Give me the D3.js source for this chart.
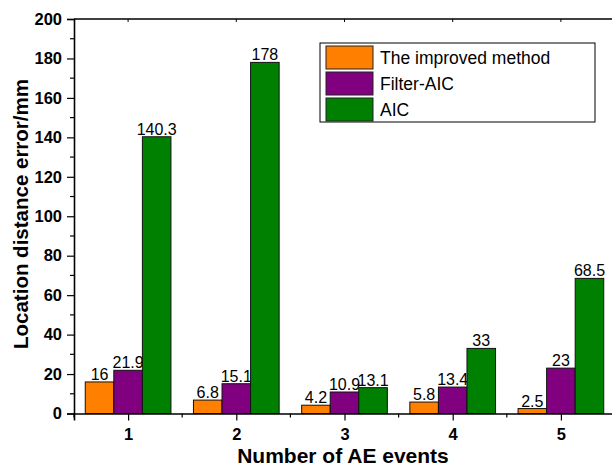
<!DOCTYPE html>
<html>
<head>
<meta charset="utf-8">
<script src="https://cdn.jsdelivr.net/npm/d3@7"></script>
<style>
  body { margin: 0; background: #fff; }
  svg { font-family: "Liberation Sans", Arial, sans-serif; }
</style>
</head>
<body>
<svg id="chart" width="612" height="468"></svg>
<script>
// data
var events = [1, 2, 3, 4, 5];
var seriesNames = ["The improved method", "Filter-AIC", "AIC"];
var improved = [16, 6.8, 4.2, 5.8, 2.5];
var filterAIC = [21.9, 15.1, 10.9, 13.4, 23];
var aic = [140.3, 178, 13.1, 33, 68.5];
var yTicks = [0, 20, 40, 60, 80, 100, 120, 140, 160, 180, 200];
var colors = ["#FF8000", "#800080", "#008000"];

var series = [improved, filterAIC, aic];

var svg = d3.select("#chart");
var mLeft = 74, mRight = 615, mTop = 19, mBottom = 413.5;

var x = d3.scaleLinear().domain([0.5, 5.5]).range([mLeft, mRight]);
var y = d3.scaleLinear().domain([0, 200]).range([mBottom, mTop]);

var barW = 0.264; // in category units

// bars
series.forEach(function(vals, j) {
  var g = svg.append("g");
  g.selectAll("rect")
    .data(vals)
    .enter().append("rect")
    .attr("x", function(d, i) { return x(events[i] + (j - 1.5) * barW); })
    .attr("width", x(1 + barW) - x(1))
    .attr("y", function(d) { return y(d); })
    .attr("height", function(d) { return y(0) - y(d); })
    .attr("fill", colors[j])
    .attr("stroke", "#111")
    .attr("stroke-width", 1);

  g.selectAll("text")
    .data(vals)
    .enter().append("text")
    .attr("x", function(d, i) { return x(events[i] + (j - 1) * barW); })
    .attr("y", function(d) { return y(d) - 2; })
    .attr("text-anchor", "middle")
    .style("font-size", "16px")
    .text(function(d) { return d; });
});

// y axis
var yAxis = svg.append("g").attr("transform", "translate(" + mLeft + ",0)")
  .call(d3.axisLeft(y).tickValues(yTicks).tickSize(7).tickFormat(d3.format("d")));
yAxis.append("g").selectAll("line")
  .data(d3.range(10, 200, 20))
  .enter().append("line")
  .attr("x1", -4).attr("x2", 0)
  .attr("y1", function(d) { return y(d); })
  .attr("y2", function(d) { return y(d); })
  .attr("stroke", "#000");
yAxis.selectAll(".tick text")
  .style("font-size", "16.5px").style("font-weight", "bold")
  .attr("font-family", "Liberation Sans, Arial, sans-serif").attr("fill", "#000")
  .attr("x", -12);

// x axis
var xAxis = svg.append("g").attr("transform", "translate(0," + mBottom + ")")
  .call(d3.axisBottom(x).tickValues(events).tickSize(7).tickFormat(d3.format("d")));
xAxis.append("g").selectAll("line")
  .data(d3.range(0.5, 6, 1))
  .enter().append("line")
  .attr("x1", function(d) { return x(d); })
  .attr("x2", function(d) { return x(d); })
  .attr("y1", 0).attr("y2", 4)
  .attr("stroke", "#000");
xAxis.selectAll(".tick text")
  .style("font-size", "16.5px").style("font-weight", "bold")
  .attr("font-family", "Liberation Sans, Arial, sans-serif").attr("fill", "#000")
  .attr("y", 15);

[yAxis, xAxis].forEach(function(a) {
  a.select(".domain").attr("stroke-width", 1.6);
  a.selectAll("line").attr("stroke-width", 1.2);
});

// top frame line
svg.append("line")
  .attr("x1", mLeft).attr("x2", mRight)
  .attr("y1", mTop).attr("y2", mTop)
  .attr("stroke", "#000").attr("stroke-width", 1.6);
svg.append("g").selectAll("line")
  .data(events)
  .enter().append("line")
  .attr("x1", function(d) { return x(d); })
  .attr("x2", function(d) { return x(d); })
  .attr("y1", mTop).attr("y2", mTop + 3)
  .attr("stroke", "#000");

// axis titles
svg.append("text")
  .attr("transform", "translate(28,214) rotate(-90)")
  .attr("text-anchor", "middle")
  .style("font-size", "20.5px").style("font-weight", "bold")
  .text("Location distance error/mm");

svg.append("text")
  .attr("x", 343)
  .attr("y", 463)
  .attr("text-anchor", "middle")
  .style("font-size", "21px").style("font-weight", "bold")
  .text("Number of AE events");

// legend
var legend = svg.append("g").attr("transform", "translate(320,43)");
legend.append("rect")
  .attr("width", 275).attr("height", 79)
  .attr("fill", "#fff").attr("stroke", "#000").attr("stroke-width", 1);
var item = legend.selectAll(".item")
  .data(seriesNames)
  .enter().append("g")
  .attr("class", "item")
  .attr("transform", function(d, i) { return "translate(6," + (3 + i * 26) + ")"; });
item.append("rect")
  .attr("width", 47).attr("height", 23)
  .attr("fill", function(d, i) { return colors[i]; })
  .attr("stroke", "#222");
item.append("text")
  .attr("x", 54).attr("y", 18)
  .style("font-size", "17.5px")
  .text(function(d) { return d; });
</script>
</body>
</html>
